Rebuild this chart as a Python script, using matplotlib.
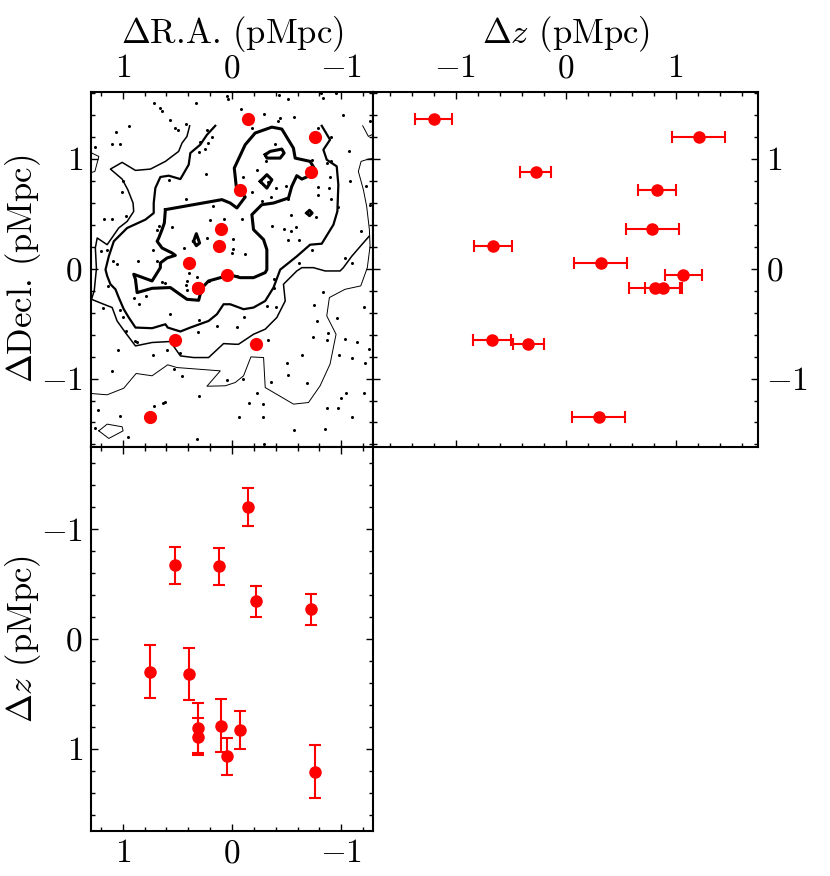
import numpy as np
import matplotlib.pyplot as plt
from matplotlib.ticker import MultipleLocator

plt.rcParams["mathtext.fontset"] = "cm"
plt.rcParams["font.family"] = "serif"
plt.rcParams["font.serif"] = ["cmr10", "DejaVu Serif"]
plt.rcParams["axes.formatter.use_mathtext"] = True
plt.rcParams["axes.unicode_minus"] = True

# ------------------------------------------------------------------
# member galaxies (pMpc)
# ------------------------------------------------------------------
ra = [-0.15, -0.76, -0.72, -0.07, 0.10, 0.12, 0.39, 0.05, 0.31, 0.31, 0.52, -0.22, 0.75]
dec = [1.36, 1.20, 0.88, 0.72, 0.36, 0.21, 0.05, -0.06, -0.18, -0.18, -0.65, -0.69, -1.35]
dz = [-1.20, 1.21, -0.27, 0.83, 0.79, -0.66, 0.32, 1.07, 0.81, 0.89, -0.67, -0.34, 0.30]
dz_err = [0.17, 0.24, 0.14, 0.17, 0.24, 0.17, 0.24, 0.17, 0.23, 0.17, 0.17, 0.14, 0.24]

# background candidates (RA, Dec)
bg_ra = [0.71, 0.33, 0.05, 0.04, 0.66, 0.64, 0.57, 0.42, 0.94, 0.52, 0.49, 1.06, 0.23,
         0.18, 1.10, 1.02, 1.25, 0.29, 0.22, 0.25, 0.30, 0.24, 1.00, 0.58, 1.01, 0.42,
         0.97, 0.17, 1.17, 1.10, 0.20, 0.07, 0.67, 0.55, 0.69, 0.23, 0.44, 0.72, 1.20,
         1.14, 1.09, 1.05, 0.86, 0.69,
         -0.43, -0.51, -0.81, -0.95, -0.83, -0.08, -0.29, -0.44, -0.42, -0.57, -1.02,
         -1.26, -0.18, -0.79, -0.91, -0.39, -1.07, -0.31, -0.73, -0.87, -0.91, -0.23,
         -0.10, -0.33, -1.08, -0.90, -0.40, -0.49, -0.79, -0.89, -1.23, -0.18, -0.79,
         -0.36, -0.27, -0.51, -0.91, -0.09, -0.54, -0.77, -0.97, -1.26, -0.37, -0.48,
         -0.59, -0.54, -1.18, -0.01, -0.51, -0.61, -0.01, -0.73, -0.12, 0.00, -1.03,
         -0.61, -1.10,
         1.13, 0.64, 0.61, 0.39, 0.32, 0.41, 0.42, 0.41, 0.21, 0.90, 0.79, 0.85, 1.18,
         1.02, 1.00, 0.57, 0.30, 0.14, 0.97, 0.31, 0.89, 0.87, 1.04, 0.59, 0.48, 0.72,
         1.10, 0.53, 0.46, 0.05, 0.30, 0.71, 0.63, 0.61, 1.23, 1.02, 1.25, 0.95, 0.32,
         -0.05, -0.38, -0.38, -0.83, -0.32, -0.40, -0.75, -1.21, -0.11, -0.78, -0.96,
         -0.05, -0.88, -0.74, -0.87, -1.03, -1.14, -0.33, -1.25, -0.98, -1.10, -0.64,
         -0.50, -1.22, -0.51, -0.10, -0.36, -0.69, -0.23, -1.04, -1.21, -0.16, -0.28,
         -1.00, -0.87, -0.97, -0.06, -0.28, -1.10, -0.57, -0.85, -0.29]
bg_dec = [1.51, 1.51, 1.57, 1.54, 1.46, 1.43, 1.35, 1.32, 1.30, 1.28, 1.26, 1.24, 1.26,
          1.20, 1.13, 1.13, 1.11, 1.15, 1.14, 1.09, 1.06, 0.86, 0.80, 0.81, 0.70, 0.63,
          0.48, 0.57, 0.45, 0.45, 0.44, 0.45, 0.39, 0.38, 0.35, 0.28, 0.19, 0.17, 0.16,
          0.17, 0.07, 0.04, 0.07, 0.07,
          1.58, 1.54, 1.60, 1.60, 1.55, 1.45, 1.41, 1.37, 1.34, 1.38, 1.40,
          1.34, 1.28, 1.28, 1.20, 1.13, 1.07, 0.98, 0.99, 0.96, 0.98, 0.90,
          0.83, 0.79, 0.80, 0.83, 0.73, 0.75, 0.74, 0.73, 0.75, 0.70, 0.67,
          0.65, 0.62, 0.63, 0.63, 0.45, 0.49, 0.47, 0.56, 0.58, 0.39, 0.36,
          0.38, 0.34, 0.34, 0.27, 0.26, 0.26, 0.18, 0.17, 0.13, 0.14, 0.10,
          0.05, 0.05,
          -0.16, -0.12, -0.13, -0.04, -0.08, -0.11, -0.15, -0.19, -0.11, -0.27, -0.25, -0.32, -0.36,
          -0.38, -0.44, -0.41, -0.47, -0.52, -0.57, -0.58, -0.66, -0.67, -0.74, -0.74, -0.77, -0.79,
          -0.93, -0.91, -0.98, -1.01, -1.16, -1.25, -1.22, -1.21, -1.29, -1.34, -1.45, -1.53, -1.55,
          -0.07, -0.09, -0.18, -0.21, -0.34, -0.35, -0.33, -0.35, -0.44, -0.48, -0.45,
          -0.53, -0.59, -0.62, -0.65, -0.64, -0.67, -0.65, -0.73, -0.79, -0.81, -0.79,
          -0.86, -0.86, -0.97, -1.00, -1.03, -1.04, -1.13, -1.13, -1.13, -1.22, -1.23,
          -1.18, -1.27, -1.27, -1.35, -1.35, -1.35, -1.47, -1.46, -1.60]

lev1_low_ra = [1.29, 1.142, 0.990, 0.877, 0.731, 0.588, 0.503, 0.107, 0.229, 0.061, -0.030,
               -0.106, -0.173, -0.289, -0.304, -0.563, -0.700, -0.806, -0.897, -0.952, -0.867,
               -0.891, -1.034, -1.178, -1.238, -1.263, -1.257, -1.232, -1.202, -1.156, -1.181,
               -1.248, -1.31]
lev1_low_dec = [-1.136, -1.148, -1.088, -0.954, -0.975, -0.875, -0.900, -0.930, -1.070, -1.066,
                -1.036, -0.975, -0.803, -0.809, -1.082, -1.233, -1.218, -1.066, -0.869, -0.597,
                -0.430, -0.263, -0.188, -0.157, 0.009, 0.203, 0.355, 0.567, 0.718, 0.885, 0.976,
                0.997, 1.006]
lev1_corner_ra = [-1.196, -1.248, -1.31]
lev1_corner_dec = [1.300, 1.203, 1.234]
lev1_loop_ra = [1.218, 1.142, 1.005, 0.996, 1.127, 1.218]
lev1_loop_dec = [-1.476, -1.415, -1.439, -1.476, -1.545, -1.476]
lev1_edge_ra = [1.30, 1.218, 1.254, 1.30]
lev1_edge_dec = [1.06, 1.021, 0.885, 0.87]

lev2_ra = [0.387, 0.412, 0.457, 0.488, 0.609, 0.746, 0.883, 1.005, 1.112, 1.005, 0.953,
           0.905, 0.899, 0.959, 1.036, 1.142, 1.233, 1.25, 1.24, 1.26, 1.285,
           1.173, 1.096, 1.051, 0.975, 0.883, 0.731, 0.564, 0.472, 0.351, 0.214, 0.077,
           -0.030, -0.060, -0.197, -0.304, -0.410, -0.487, -0.471, -0.593, -0.639, -0.745,
           -0.852, -0.989, -1.019, -1.095, -1.187, -1.254]
lev2_dec = [1.300, 1.203, 1.143, 1.067, 0.976, 0.906, 0.894, 0.967, 0.906, 0.815, 0.718,
            0.597, 0.521, 0.430, 0.370, 0.218, 0.279, 0.19, 0.0, -0.2, -0.279,
            -0.324, -0.354, -0.476, -0.582, -0.703, -0.672, -0.663, -0.794, -0.809, -0.809,
            -0.682, -0.688, -0.688, -0.597, -0.551, -0.445, -0.294, -0.142, -0.021, 0.009,
            0.009, -0.021, -0.021, 0.009, 0.112, 0.218, 0.294]

lev3_ra = [0.153, 0.229, 0.290, 0.381, 0.396, 0.472, 0.579, 0.655, 0.701, 0.716, 0.716,
           0.792, 0.959, 1.081, 1.127, 1.157, 1.142, 1.112, 1.066, 1.036, 0.990, 0.944,
           0.883, 0.731, 0.609, 0.588, 0.472, 0.381, 0.214, 0.138, 0.077, 0.016, -0.106,
           -0.197, -0.304, -0.380, -0.441, -0.593, -0.715, -0.821, -0.928, -0.964, -0.973,
           -0.958, -0.867, -0.836, -0.897, -0.821]
lev3_dec = [1.300, 1.218, 1.128, 1.052, 0.946, 0.815, 0.846, 0.834, 0.734, 0.597, 0.506,
            0.446, 0.370, 0.249, 0.112, -0.009, -0.066, -0.142, -0.188, -0.263, -0.369,
            -0.445, -0.536, -0.542, -0.506, -0.536, -0.572, -0.536, -0.476, -0.415, -0.324,
            -0.324, -0.369, -0.354, -0.294, -0.172, -0.009, 0.112, 0.218, 0.227, 0.400,
            0.521, 0.764, 0.931, 0.991, 1.082, 1.173, 1.300]

lev4_ra = [0.609, 0.092, 0.016, -0.045, -0.121, -0.076, -0.039, -0.021, -0.121, -0.212,
           -0.365, -0.456, -0.562, -0.578, -0.715, -0.760, -0.730, -0.639, -0.593, -0.547,
           -0.517, -0.380, -0.273, -0.182, -0.197, -0.289, -0.319, -0.319, -0.304, -0.197,
           -0.075, 0.016, 0.214, 0.275, 0.305, 0.412, 0.564, 0.731, 0.868, 0.883, 0.899,
           0.731, 0.655, 0.655, 0.594, 0.518, 0.549, 0.640, 0.685, 0.670, 0.640, 0.619, 0.609]
lev4_dec = [0.537, 0.628, 0.597, 0.552, 0.652, 0.703, 0.749, 0.915, 1.128, 1.234, 1.288,
            1.270, 1.097, 1.006, 0.976, 0.900, 0.855, 0.815, 0.846, 0.749, 0.643, 0.597,
            0.582, 0.491, 0.355, 0.264, 0.173, -0.009, -0.036, -0.082, -0.082, -0.057,
            -0.112, -0.176, -0.288, -0.279, -0.172, -0.179, -0.218, -0.097, -0.051, -0.112,
            0.009, 0.052, 0.097, 0.121, 0.143, 0.188, 0.249, 0.279, 0.355, 0.415, 0.537]
peak1_ra = [-0.304, -0.349, -0.456, -0.477, -0.441, -0.319, -0.304]
peak1_dec = [1.037, 1.067, 1.088, 1.052, 1.006, 1.006, 1.037]
peak2_ra = [-0.258, -0.319, -0.365, -0.319, -0.258]
peak2_dec = [0.794, 0.855, 0.809, 0.733, 0.794]
peak3_ra = [-0.684, -0.709, -0.733, -0.709, -0.684]
peak3_dec = [0.506, 0.531, 0.506, 0.482, 0.506]
peak4_ra = [0.351, 0.326, 0.296, 0.326, 0.351]
peak4_dec = [0.249, 0.318, 0.233, 0.209, 0.249]

# ------------------------------------------------------------------
fig = plt.figure(figsize=(8.3, 8.76), dpi=100)
ax1 = fig.add_axes([0.1096, 0.4901, 0.3398, 0.4052])
ax2 = fig.add_axes([0.4494, 0.4901, 0.4639, 0.4052])
ax3 = fig.add_axes([0.1096, 0.0514, 0.3398, 0.4387])

fs = 24
lfs = 25


def style(ax):
    ax.xaxis.set_major_locator(MultipleLocator(1))
    ax.yaxis.set_major_locator(MultipleLocator(1))
    ax.xaxis.set_minor_locator(MultipleLocator(0.2))
    ax.yaxis.set_minor_locator(MultipleLocator(0.2))
    ax.tick_params(which="both", direction="in", top=True, bottom=True,
                   left=True, right=True, labelsize=fs, width=1.0, pad=6)
    ax.tick_params(which="major", length=5)
    ax.tick_params(which="minor", length=3)
    for s in ax.spines.values():
        s.set_linewidth(1.5)


# --- sky map ---
lw = [0.7, 1.1, 1.6, 2.2]
ax1.plot(lev1_low_ra, lev1_low_dec, "k-", lw=lw[0])
ax1.plot(lev1_corner_ra, lev1_corner_dec, "k-", lw=lw[0])
ax1.plot(lev1_loop_ra, lev1_loop_dec, "k-", lw=lw[0])
ax1.plot(lev1_edge_ra, lev1_edge_dec, "k-", lw=lw[0])
ax1.plot(lev2_ra, lev2_dec, "k-", lw=lw[1])
ax1.plot(lev3_ra, lev3_dec, "k-", lw=lw[2])
ax1.plot(lev4_ra, lev4_dec, "k-", lw=lw[3])
for px, py in [(peak1_ra, peak1_dec), (peak2_ra, peak2_dec),
               (peak3_ra, peak3_dec), (peak4_ra, peak4_dec)]:
    ax1.plot(px, py, "k-", lw=lw[3])
ax1.plot(bg_ra, bg_dec, "ko", ms=2.2, mew=0)
ax1.plot(ra, dec, "o", color="red", ms=9.5, mew=0)
ax1.set_xlim(1.29, -1.29)
ax1.set_ylim(-1.62, 1.61)
style(ax1)
ax1.tick_params(labeltop=True, labelbottom=False, labelleft=True, labelright=False)
ax1.xaxis.set_label_position("top")
ax1.set_xlabel(r"$\Delta$R.A. (pMpc)", fontsize=lfs, labelpad=8)
ax1.set_ylabel(r"$\Delta$Decl. (pMpc)", fontsize=lfs, labelpad=-2)

# --- dz vs Dec ---
ax2.errorbar(dz, dec, xerr=dz_err, fmt="o", color="red", ms=8,
             ecolor="red", elinewidth=1.5, capsize=4, capthick=1.5)
ax2.set_xlim(-1.75, 1.75)
ax2.set_ylim(-1.62, 1.61)
style(ax2)
ax2.tick_params(labeltop=True, labelbottom=False, labelleft=False, labelright=True)
ax2.xaxis.set_label_position("top")
ax2.set_xlabel(r"$\Delta z$ (pMpc)", fontsize=lfs, labelpad=8)

# --- RA vs dz ---
ax3.errorbar(ra, dz, yerr=dz_err, fmt="o", color="red", ms=8,
             ecolor="red", elinewidth=1.5, capsize=4, capthick=1.5)
ax3.set_xlim(1.29, -1.29)
ax3.set_ylim(1.75, -1.75)
style(ax3)
ax3.tick_params(labeltop=False, labelbottom=True, labelleft=True, labelright=False)
ax3.set_ylabel(r"$\Delta z$ (pMpc)", fontsize=lfs, labelpad=-2)

fig.savefig("out.png", dpi=100)
